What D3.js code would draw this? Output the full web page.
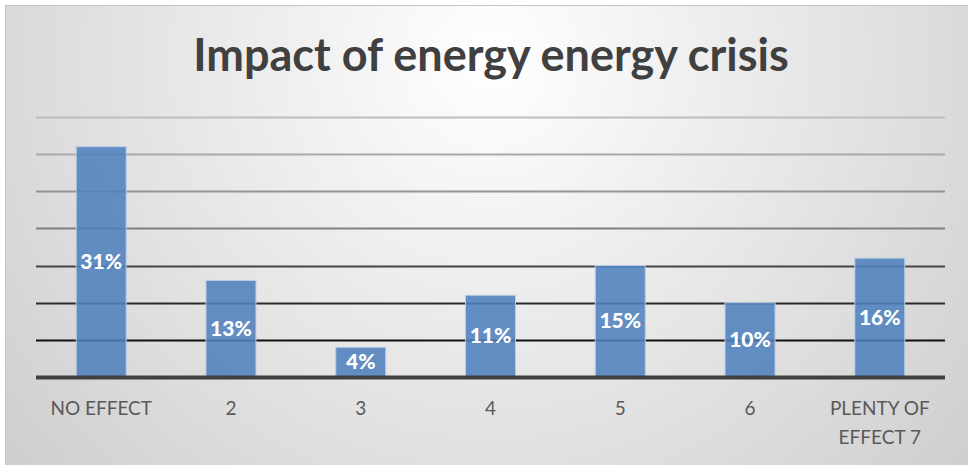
<!DOCTYPE html>
<head>
    <meta charset="UTF-8" />
    <style>
        body { margin: 0; padding: 0; background: #fff; }
        svg { display: block; }
    </style>
    <title>Impact of energy energy crisis</title>
</head>
<svg width="968" height="465"></svg>
<script src="https://d3js.org/d3.v7.min.js"></script>
<script>
    // data
    const categories = ["NO EFFECT", "2", "3", "4", "5", "6", "PLENTY OF EFFECT 7"]
    const shares = [31, 13, 4, 11, 15, 10, 16]
    const gridTicks = [0, 5, 10, 15, 20, 25, 30, 35]

    const svg = d3.select("svg"),
        width = 968,
        height = 465

    const margin = { top: 117, right: 23, bottom: 88, left: 36 }

    // background gradient
    const defs = svg.append("defs")
    const bg = defs.append("radialGradient")
        .attr("id", "bg")
        .attr("gradientUnits", "userSpaceOnUse")
        .attr("cx", 490).attr("cy", 60).attr("r", 620)
    bg.append("stop").attr("offset", "0%").attr("stop-color", "#ffffff")
    bg.append("stop").attr("offset", "100%").attr("stop-color", "#cfcfcf")

    svg.append("rect")
        .attr("x", 5.5).attr("y", 5.5)
        .attr("width", width).attr("height", height)
        .attr("fill", "url(#bg)")
        .attr("stroke", "#c4c4c4")

    const x = d3.scaleBand()
        .domain(categories)
        .range([margin.left, width - margin.right])
        .paddingInner(0.615)
        .paddingOuter(0.31)

    const y = d3.scaleLinear()
        .domain([0, 35])
        .range([height - margin.bottom, margin.top])

    // gridlines get lighter towards the top
    const gridColor = d3.scaleLinear()
        .domain([5, 15, 20, 35])
        .range(["#111111", "#444444", "#808080", "#bdbdbd"])

    svg.append("g")
        .selectAll("line")
        .data(gridTicks.filter(d => d > 0))
        .enter().append("line")
        .attr("x1", margin.left)
        .attr("x2", width - margin.right)
        .attr("y1", d => Math.round(y(d)) + 0.5)
        .attr("y2", d => Math.round(y(d)) + 0.5)
        .attr("stroke", d => gridColor(d))
        .attr("stroke-width", 2)

    // bars
    svg.append("g")
        .selectAll("rect")
        .data(shares)
        .enter().append("rect")
        .attr("x", (d, i) => x(categories[i]))
        .attr("y", d => y(d))
        .attr("width", x.bandwidth())
        .attr("height", d => y(0) - y(d))
        .attr("fill", "#4f81bd")
        .attr("fill-opacity", 0.88)
        .attr("stroke", "#b9cde6")
        .attr("stroke-width", 1)

    // baseline
    svg.append("line")
        .attr("x1", margin.left)
        .attr("x2", width - margin.right)
        .attr("y1", y(0) + 0.5)
        .attr("y2", y(0) + 0.5)
        .attr("stroke", "#404040")
        .attr("stroke-width", 4)

    // value labels
    svg.append("g")
        .selectAll("text")
        .data(shares)
        .enter().append("text")
        .attr("x", (d, i) => x(categories[i]) + x.bandwidth() / 2)
        .attr("y", d => (y(d) + y(0)) / 2 + 7)
        .attr("text-anchor", "middle")
        .attr("fill", "#ffffff")
        .style("font-family", "Lato, 'Open Sans', sans-serif")
        .style("font-weight", "900")
        .style("font-size", "21px")
        .text(d => d + "%")

    // category labels, wrap the long one
    const xAxis = svg.append("g")
        .attr("transform", `translate(0,${y(0)})`)
        .call(d3.axisBottom(x).tickSize(0).tickPadding(0).tickFormat(""))
    xAxis.select(".domain").remove()

    const labelLines = d => d === "PLENTY OF EFFECT 7" ? ["PLENTY OF", "EFFECT 7"] : [d]
    svg.append("g")
        .selectAll("text")
        .data(categories)
        .enter().append("text")
        .attr("x", d => x(d) + x.bandwidth() / 2)
        .attr("y", 415)
        .attr("text-anchor", "middle")
        .attr("fill", "#595959")
        .style("font-family", "Lato, 'Open Sans', sans-serif")
        .style("font-size", "19px")
        .each(function (d) {
            const t = d3.select(this)
            labelLines(d).forEach((line, i) => {
                t.append("tspan")
                    .attr("x", x(d) + x.bandwidth() / 2)
                    .attr("dy", i === 0 ? 0 : 29)
                    .text(line)
            })
        })

    // title
    svg.append("text")
        .attr("x", 491)
        .attr("y", 71)
        .attr("text-anchor", "middle")
        .attr("fill", "#404040")
        .style("font-family", "Lato, 'Open Sans', sans-serif")
        .style("font-weight", "bold")
        .style("font-size", "45px")
        .text("Impact of energy energy crisis")
</script>
